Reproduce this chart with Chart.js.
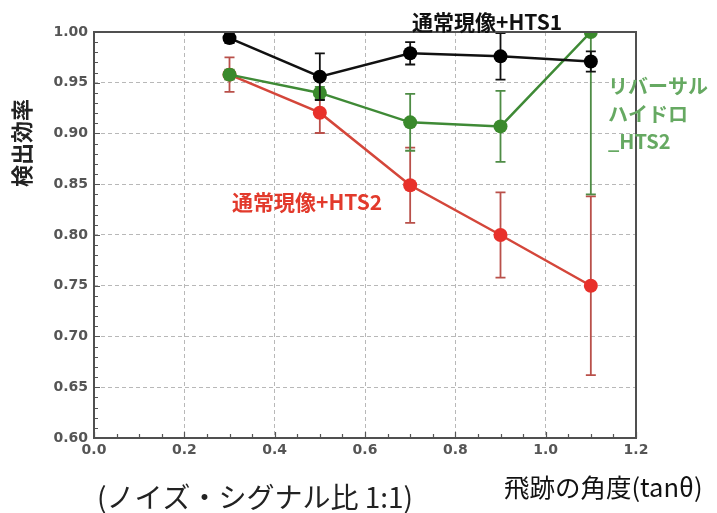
<!DOCTYPE html>
<html>
<head>
<meta charset="utf-8">
<script src="https://cdn.jsdelivr.net/npm/chart.js@4/dist/chart.umd.min.js"></script>
<style>
  html, body { margin: 0; padding: 0; background: #ffffff; }
  #wrap { width: 717px; height: 513px; }
</style>
</head>
<body>
<div id="wrap"><canvas id="c" width="717" height="513"></canvas></div>
<script>
// Track angle (tanθ) and detection efficiency for three development methods
const angles = [0.3, 0.5, 0.7, 0.9, 1.1];

const hts1Eff = [0.994, 0.956, 0.979, 0.976, 0.971];
const hts1Err = [0.005, 0.023, 0.011, 0.023, 0.010];

const reversalEff = [0.958, 0.940, 0.911, 0.907, 1.000];
const reversalErr = [0.005, 0.006, 0.028, 0.035, 0.160];

const normalEff = [0.958, 0.9205, 0.849, 0.800, 0.750];
const normalErr = [0.017, 0.020, 0.037, 0.042, 0.088];

const xTicks = [0.0, 0.2, 0.4, 0.6, 0.8, 1.0, 1.2];
const yTicks = [0.60, 0.65, 0.70, 0.75, 0.80, 0.85, 0.90, 0.95, 1.00];

const CJK = '"Noto Sans CJK JP", "Noto Sans", sans-serif';
const NUM = '"DejaVu Sans", sans-serif';

function points(xs, ys) {
  return xs.map((x, i) => ({ x: x, y: ys[i] }));
}

// Vertical error bars with caps, drawn just before their own series
const errorBars = {
  id: 'errorBars',
  beforeDatasetDraw(chart, args) {
    const ds = chart.data.datasets[args.index];
    if (!ds.errors) return;
    const { ctx, chartArea: a, scales: { x, y } } = chart;
    ctx.save();
    ctx.beginPath();
    ctx.rect(a.left, a.top, a.right - a.left, a.bottom - a.top);
    ctx.clip();
    ctx.strokeStyle = ds.errorColor;
    ctx.lineWidth = 1.8;
    ds.data.forEach((p, i) => {
      const e = ds.errors[i];
      const px = x.getPixelForValue(p.x);
      const top = y.getPixelForValue(p.y + e);
      const bot = y.getPixelForValue(p.y - e);
      ctx.beginPath();
      ctx.moveTo(px, top); ctx.lineTo(px, bot);
      ctx.moveTo(px - 5, top); ctx.lineTo(px + 5, top);
      ctx.moveTo(px - 5, bot); ctx.lineTo(px + 5, bot);
      ctx.stroke();
    });
    ctx.restore();
  }
};

// Axes frame with inward major/minor ticks
const frame = {
  id: 'frame',
  afterDatasetsDraw(chart) {
    const { ctx, chartArea: a, scales: { x, y } } = chart;
    ctx.save();
    ctx.strokeStyle = '#555555';
    ctx.lineWidth = 1.2;
    ctx.beginPath();
    for (let v = 0; v <= 1.2001; v += 0.05) {
      const px = Math.round(x.getPixelForValue(v)) + 0.5;
      const major = Math.abs(v / 0.2 - Math.round(v / 0.2)) < 1e-6;
      ctx.moveTo(px, a.bottom);
      ctx.lineTo(px, a.bottom - (major ? 6 : 4));
    }
    for (let v = 0.60; v <= 1.0001; v += 0.01) {
      const py = Math.round(y.getPixelForValue(v)) + 0.5;
      const major = Math.abs(v / 0.05 - Math.round(v / 0.05)) < 1e-6;
      ctx.moveTo(a.left, py);
      ctx.lineTo(a.left + (major ? 6 : 4), py);
    }
    ctx.stroke();
    ctx.lineWidth = 2;
    ctx.strokeStyle = '#505050';
    ctx.strokeRect(a.left, a.top, a.right - a.left, a.bottom - a.top);
    ctx.restore();
  }
};

// Axis titles and series annotations
const annotations = {
  id: 'annotations',
  afterDraw(chart) {
    const ctx = chart.ctx;
    ctx.save();
    ctx.textBaseline = 'middle';

    ctx.save();
    ctx.translate(22, 143);
    ctx.rotate(-Math.PI / 2);
    ctx.textAlign = 'center';
    ctx.fillStyle = '#222222';
    ctx.font = 'bold 22px ' + CJK;
    ctx.fillText('検出効率', 0, 0);
    ctx.restore();

    ctx.textAlign = 'left';
    ctx.fillStyle = '#111111';
    ctx.font = 'bold 21px ' + CJK;
    ctx.fillText('通常現像+HTS1', 412, 22);

    ctx.fillStyle = '#e23a2c';
    ctx.fillText('通常現像+HTS2', 232, 202);

    ctx.fillStyle = '#66a962';
    ctx.font = 'bold 20px ' + CJK;
    ctx.fillText('リバーサル', 608, 86);
    ctx.fillText('ハイドロ', 608, 114);
    ctx.fillText('_HTS2', 608, 141);

    ctx.fillStyle = '#111111';
    ctx.font = '25.5px ' + CJK;
    ctx.fillText('飛跡の角度(tanθ)', 504, 487);

    ctx.fillStyle = '#222222';
    ctx.font = '28px ' + CJK;
    ctx.fillText('(ノイズ・シグナル比 1:1)', 97, 497);
    ctx.restore();
  }
};

const tickFont = { family: NUM, size: 14, weight: 'bold' };

new Chart(document.getElementById('c'), {
  type: 'line',
  data: {
    datasets: [
      {
        label: '通常現像+HTS1',
        data: points(angles, hts1Eff),
        errors: hts1Err,
        errorColor: '#111111',
        borderColor: '#111111',
        backgroundColor: '#000000',
        borderWidth: 2.5,
        pointRadius: 7,
        pointBorderWidth: 0,
        order: 0,
        clip: 0
      },
      {
        label: 'リバーサルハイドロ_HTS2',
        data: points(angles, reversalEff),
        errors: reversalErr,
        errorColor: '#4e8c45',
        borderColor: '#3f8a36',
        backgroundColor: '#3a8a2c',
        borderWidth: 2.5,
        pointRadius: 7,
        pointBorderWidth: 0,
        order: 1,
        clip: 0
      },
      {
        label: '通常現像+HTS2',
        data: points(angles, normalEff),
        errors: normalErr,
        errorColor: '#b9504a',
        borderColor: '#d4463a',
        backgroundColor: '#e8302a',
        borderWidth: 2.5,
        pointRadius: 7,
        pointBorderWidth: 0,
        order: 2,
        clip: 0
      }
    ]
  },
  options: {
    responsive: false,
    devicePixelRatio: 1,
    animation: false,
    layout: { padding: { top: 32, right: 81, left: 0, bottom: 0 } },
    plugins: {
      legend: { display: false },
      tooltip: { enabled: false }
    },
    scales: {
      x: {
        type: 'linear',
        min: 0,
        max: 1.2,
        afterFit: s => { s.height = 75; },
        afterBuildTicks: s => { s.ticks = xTicks.map(v => ({ value: v })); },
        ticks: {
          padding: 4,
          color: '#555555',
          font: tickFont,
          maxRotation: 0,
          callback: v => Number(v).toFixed(1)
        },
        grid: { color: '#b8b8b8', lineWidth: 1, drawTicks: false },
        border: { display: false, dash: [4, 3] }
      },
      y: {
        type: 'linear',
        min: 0.6,
        max: 1.0,
        afterFit: s => { s.width = 94; },
        afterBuildTicks: s => { s.ticks = yTicks.map(v => ({ value: v })); },
        ticks: {
          padding: 6,
          color: '#555555',
          font: tickFont,
          callback: v => Number(v).toFixed(2)
        },
        grid: { color: '#b8b8b8', lineWidth: 1, drawTicks: false },
        border: { display: false, dash: [4, 3] }
      }
    }
  },
  plugins: [errorBars, frame, annotations]
});
</script>
</body>
</html>
